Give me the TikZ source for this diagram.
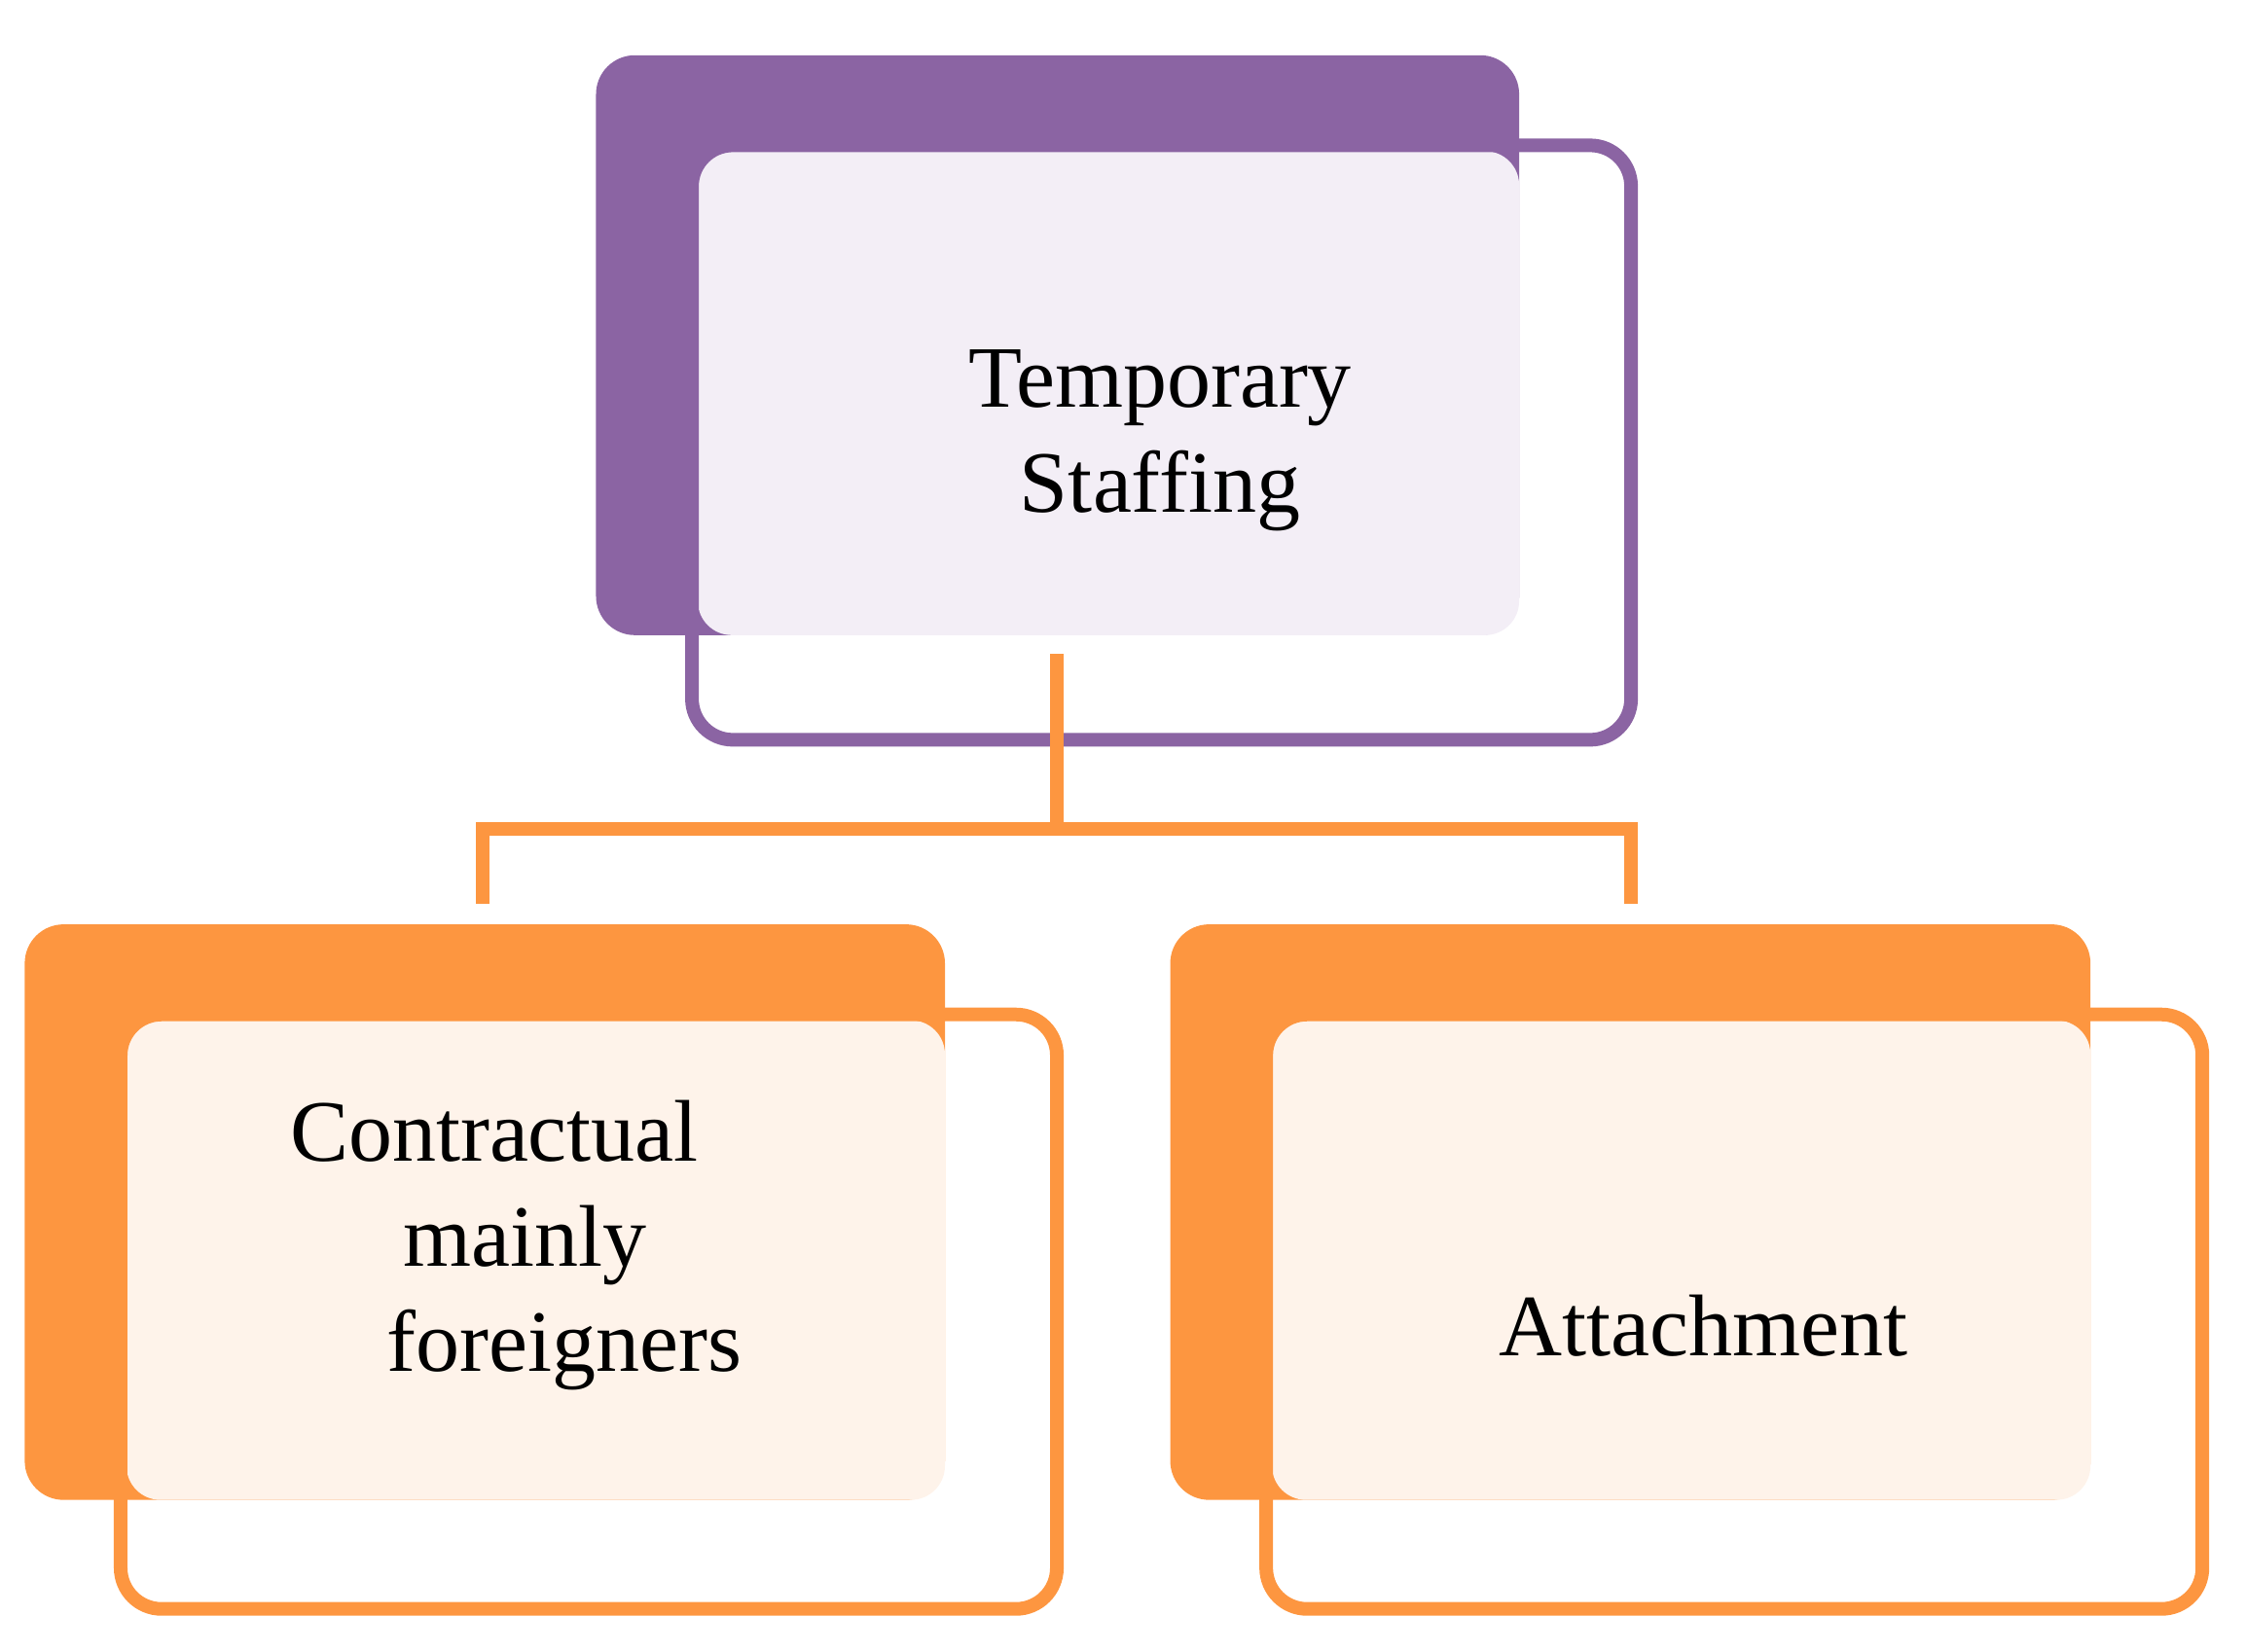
\documentclass[tikz,border=0pt]{standalone}
\usepackage{fontspec}
\setmainfont{Liberation Serif}
\begin{document}
\definecolor{pur}{HTML}{8B64A3}
\definecolor{org}{HTML}{FD9640}
\definecolor{lpur}{HTML}{F3EEF6}
\definecolor{lorg}{HTML}{FEF3EA}
\begin{tikzpicture}[x=1.494pt,y=-1.494pt,
  dark/.style={rounded corners=40},
  outl/.style={rounded corners=42,line width=14pt},
  txt/.style={align=center,font=\fontsize{90}{108}\selectfont}]
\useasboundingbox (0,0) rectangle (1545,1136);
% top
\fill[pur,dark] (410,38) rectangle (1045,437);
\fill[lpur,rounded corners=35] (480,104) rectangle (1045,437);
\draw[pur,outl] (476,100) rectangle (1122,509);
\node[txt] (top) at (798,303) {Temporary\\Staffing};
% left
\fill[org,dark] (17,636) rectangle (650,1032);
\fill[lorg,rounded corners=35] (87,702) rectangle (650,1032);
\draw[org,outl] (83,698) rectangle (727,1107);
\node[txt] (l) at (340,857) {Contractual\\\hspace*{0.7em}mainly\\\hspace*{1.6em}foreigners};
% right
\fill[org,dark] (805,636) rectangle (1438,1032);
\fill[lorg,rounded corners=35] (875,702) rectangle (1438,1032);
\draw[org,outl] (871,698) rectangle (1515,1107);
\node[txt] (r) at (1172,912) {Attachment};
% connectors
\coordinate (a) at (727,450);
\coordinate (b) at (727,570);
\coordinate (c) at (332,622);
\coordinate (d) at (1122,622);
\draw[org,line width=14pt] (a) -- (b);
\draw[org,line width=14pt] (c) |- (b) -| (d);
\end{tikzpicture}
\end{document}
